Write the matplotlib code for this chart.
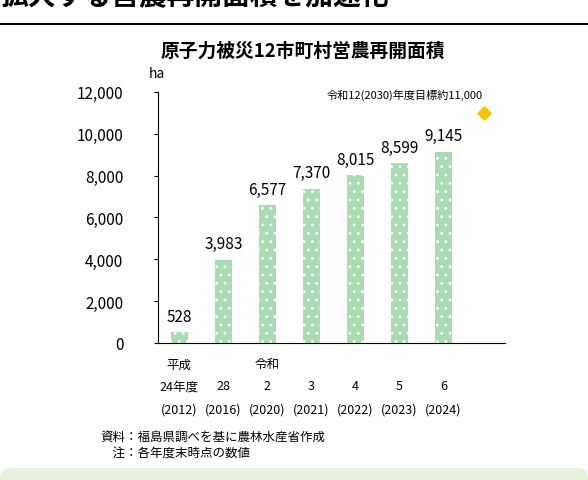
import matplotlib
matplotlib.use('Agg')
import matplotlib.pyplot as plt
from matplotlib.patches import FancyBboxPatch

plt.rcParams['font.family'] = ['Noto Sans CJK JP', 'DejaVu Sans']
plt.rcParams['hatch.color'] = 'white'
plt.rcParams['hatch.linewidth'] = 0.8

values = [528, 3983, 6577, 7370, 8015, 8599, 9145]
value_labels = ['528', '3,983', '6,577', '7,370', '8,015', '8,599', '9,145']
era_labels = ['平成', '', '令和', '', '', '', '']
year_labels = ['24年度', '28', '2', '3', '4', '5', '6']
west_labels = ['(2012)', '(2016)', '(2020)', '(2021)', '(2022)', '(2023)', '(2024)']
target_value = 11000

fig = plt.figure(figsize=(5.88, 4.81), dpi=100)

# top heading remnant (cut off in the reference too) and rule
fig.text(0.0, 1.005, '拡大する営農再開面積を加速化', fontsize=20, fontweight='bold', va='center', ha='left')
fig.add_artist(plt.Line2D([0, 1], [0.948, 0.948], color='black', lw=1.5))

# bottom green box
fig.add_artist(FancyBboxPatch((0.0, -0.05), 1.0, 0.075, boxstyle='round,pad=0,rounding_size=0.02',
                              facecolor='#e6f2dc', edgecolor='none'))

ax = fig.add_axes([0.269, 0.285, 0.59, 0.522])
x = list(range(len(values)))
ax.bar(x, values, width=0.38, color='#a9dcb3', edgecolor='white', linewidth=0, hatch='..')
ax.scatter([6.93], [target_value], marker='D', s=45, color='#f5c200', zorder=3)

for xi, v, lab in zip(x, values, value_labels):
    ax.text(xi, v + 350, lab, ha='center', va='bottom', fontsize=11)

ax.text(6.9, 11900, '令和12(2030)年度目標約11,000', ha='right', va='center', fontsize=8)

ax.set_xlim(-0.48, 7.4)
ax.set_ylim(0, 12000)
ax.set_yticks(range(0, 12001, 2000))
ax.set_yticklabels([f'{t:,}' for t in range(0, 12001, 2000)], fontsize=11)
ax.set_xticks([])
ax.spines['top'].set_visible(False)
ax.spines['right'].set_visible(False)
ax.tick_params(axis='y', length=3, pad=22)

for xi in x:
    ax.text(xi, -1000, era_labels[xi], ha='center', va='center', fontsize=9)
    ax.text(xi, -2050, year_labels[xi], ha='center', va='center', fontsize=9)
    ax.text(xi, -3150, west_labels[xi], ha='center', va='center', fontsize=9)

ax.text(-0.5, 12900, 'ha', ha='center', va='center', fontsize=10)
fig.text(0.515, 0.893, '原子力被災12市町村営農再開面積', ha='center', va='center', fontsize=13.5, fontweight='bold')

fig.text(0.17, 0.09, '資料：福島県調べを基に農林水産省作成', ha='left', va='center', fontsize=9)
fig.text(0.17, 0.056, '　注：各年度末時点の数値', ha='left', va='center', fontsize=9)

fig.savefig('out.png', dpi=100)
